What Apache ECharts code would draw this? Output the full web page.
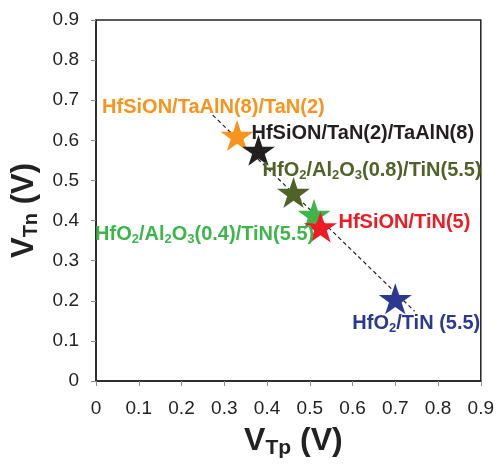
<!DOCTYPE html>
<html>
<head>
<meta charset="utf-8">
<script src="https://cdn.jsdelivr.net/npm/echarts@6/dist/echarts.min.js"></script>
<style>html,body{margin:0;padding:0;background:#fff;}#c{width:497px;height:464px;}</style>
</head>
<body>
<div id="c"></div>
<script>
// Data
const names = ['HfSiON/TaAlN(8)/TaN(2)', 'HfSiON/TaN(2)/TaAlN(8)', 'HfO2/Al2O3(0.8)/TiN(5.5)', 'HfO2/Al2O3(0.4)/TiN(5.5)', 'HfSiON/TiN(5)', 'HfO2/TiN (5.5)'];
const labelsRich = ['HfSiON/TaAlN(8)/TaN(2)', 'HfSiON/TaN(2)/TaAlN(8)', 'HfO{s|2}/Al{s|2}O{s|3}(0.8)/TiN(5.5)', 'HfO{s|2}/Al{s|2}O{s|3}(0.4)/TiN(5.5)', 'HfSiON/TiN(5)', 'HfO{s|2}/TiN (5.5)'];
const vtp = [0.33, 0.38, 0.462, 0.51, 0.525, 0.70];
const vtn = [0.612, 0.575, 0.47, 0.415, 0.384, 0.205];
const colors = ['#F7941D', '#231F20', '#4F6228', '#3DB549', '#ED1C24', '#2B3990'];
const trendX = [0.273, 0.745];
const trendY = [0.663, 0.174];

// label offsets (px) from star centre to label start
const labelOffsets = [[-135, -28], [-7, -17], [-31, -22], [-219, 20], [18, -4], [-43, 25]];

const star = 'path://M50,0 L61.2,34.5 L97.6,34.5 L68.2,55.9 L79.4,90.5 L50,69.1 L20.6,90.5 L31.8,55.9 L2.4,34.5 L38.8,34.5 Z';

const font = '"Liberation Sans", Arial, sans-serif';

const data = vtp.map((x, i) => ({
  name: names[i],
  value: [x, vtn[i]],
  itemStyle: { color: colors[i], opacity: 1 },
  label: {
    show: true,
    position: 'inside',
    align: 'left',
    verticalAlign: 'middle',
    offset: labelOffsets[i],
    formatter: labelsRich[i],
    color: colors[i],
    fontFamily: font,
    fontWeight: 'bold',
    fontSize: 20,
    rich: {
      s: { color: colors[i], fontFamily: font, fontWeight: 'bold', fontSize: 13, verticalAlign: 'bottom', padding: [10, 0, 0, 0] }
    }
  }
}));

const chart = echarts.init(document.getElementById('c'));
chart.setOption({
  animation: false,
  backgroundColor: '#fff',
  grid: { left: 96, right: 14, top: 20, bottom: 77, show: true, borderColor: '#222', borderWidth: 1.5, backgroundColor: 'transparent' },
  xAxis: {
    type: 'value', min: 0, max: 0.9, interval: 0.1,
    axisLine: { show: true, lineStyle: { color: '#222', width: 1.5 } },
    axisTick: { show: true, inside: false, length: 5, lineStyle: { color: '#888' } },
    splitLine: { show: false },
    axisLabel: { color: '#222', fontFamily: font, fontSize: 19, margin: 18, formatter: v => v === 0 ? '0' : v.toFixed(1) },
    name: 'V{s|Tp} (V)', nameLocation: 'middle', nameGap: 42,
    nameTextStyle: { color: '#222', fontFamily: font, fontWeight: 'bold', fontSize: 32, padding: [0, 0, 0, 10],
      rich: { s: { color: '#222', fontFamily: font, fontWeight: 'bold', fontSize: 21, verticalAlign: 'bottom', padding: [15, 0, 0, 0] } } }
  },
  yAxis: {
    type: 'value', min: 0, max: 0.9, interval: 0.1,
    axisLine: { show: true, lineStyle: { color: '#222', width: 1.5 } },
    axisTick: { show: true, inside: false, length: 5, lineStyle: { color: '#888' } },
    splitLine: { show: false },
    axisLabel: { color: '#222', fontFamily: font, fontSize: 19, margin: 17, formatter: v => v === 0 ? '0' : v.toFixed(1) },
    name: 'V{s|Tn} (V)', nameLocation: 'middle', nameGap: 53, nameRotate: 90,
    nameTextStyle: { color: '#222', fontFamily: font, fontWeight: 'bold', fontSize: 31, padding: [0, 20, 0, 0],
      rich: { s: { color: '#222', fontFamily: font, fontWeight: 'bold', fontSize: 20, verticalAlign: 'bottom', padding: [15, 0, 0, 0] } } }
  },
  series: [
    {
      type: 'line',
      data: trendX.map((x, i) => [x, trendY[i]]),
      symbol: 'none',
      lineStyle: { color: '#222', width: 1.2, type: [4, 3] },
      z: 1
    },
    {
      type: 'scatter',
      symbol: star,
      symbolSize: [33, 31],
      data: data,
      z: 2
    }
  ]
});
</script>
</body>
</html>
